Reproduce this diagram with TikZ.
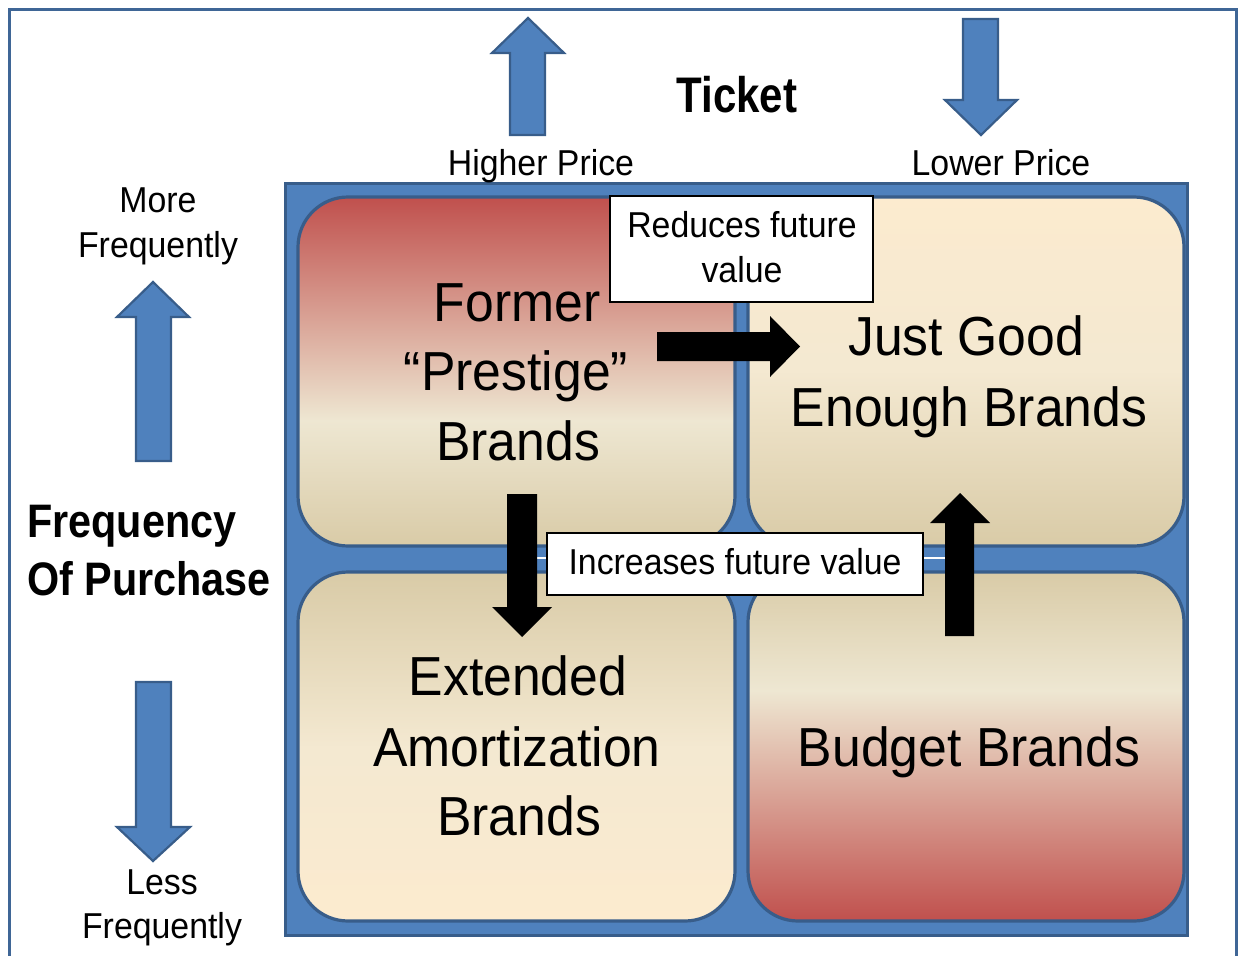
\documentclass[tikz,border=0pt]{standalone}
\usepackage{fontspec}
\setmainfont{Liberation Sans}[FakeStretch=0.94]
\newfontfamily\bfont{Liberation Sans}[FakeStretch=0.84]
\newfontfamily\bfontw{Liberation Sans}[FakeStretch=0.88]
\definecolor{frameblue}{HTML}{3F6696}
\definecolor{fillblue}{HTML}{4F81BD}
\definecolor{edgeblue}{HTML}{385D8A}
\definecolor{qred}{HTML}{C0504D}
\definecolor{qbeige}{HTML}{EEE7D2}
\definecolor{qtan}{HTML}{D9CBA7}
\definecolor{qcream}{HTML}{FCEBCF}
\pgfdeclareverticalshading{tlshade}{100bp}{color(0bp)=(qtan); color(25bp)=(qtan); color(43bp)=(qbeige); color(75bp)=(qred); color(100bp)=(qred)}
\pgfdeclareverticalshading{brshade}{100bp}{color(0bp)=(qred); color(25bp)=(qred); color(58bp)=(qbeige); color(75bp)=(qtan); color(100bp)=(qtan)}
\pgfdeclareverticalshading{trshade}{100bp}{color(0bp)=(qtan); color(25bp)=(qtan); color(50bp)=(qbeige!60!qcream); color(75bp)=(qcream); color(100bp)=(qcream)}
\pgfdeclareverticalshading{blshade}{100bp}{color(0bp)=(qcream); color(25bp)=(qcream); color(50bp)=(qbeige!60!qcream); color(75bp)=(qtan); color(100bp)=(qtan)}
\tikzset{
  quad/.style={draw=edgeblue, line width=3.2pt, rounded corners=50pt},
  bluearrow/.style={draw=edgeblue, fill=fillblue, line width=2.2pt, line join=miter},
  blackarrow/.style={fill=black},
  lbox/.style={draw=black, fill=white, line width=1.5pt, inner sep=0pt},
  big/.style={anchor=base, inner sep=0pt, font=\fontsize{55}{66}\selectfont},
  small/.style={anchor=base, inner sep=0pt, font=\fontsize{36}{43}\selectfont},
  bold/.style={anchor=base west, inner sep=0pt, font=\bfontw\bfseries\fontsize{47}{56}\selectfont},
}
\begin{document}
\begin{tikzpicture}[x=1pt,y=-1pt]
\useasboundingbox (0,0) rectangle (1241,955);
% outer frame
\draw[frameblue, line width=3pt] (9.5,956) -- (9.5,9.5) -- (1236,9.5) -- (1236,956);
% inner blue board
\draw[edgeblue, fill=fillblue, line width=3pt] (285,183) rectangle (1187,935);
% quadrants
\draw[quad, shading=tlshade] (298,197) rectangle (735,546);
\draw[quad, shading=trshade] (748,197) rectangle (1184,546);
\draw[quad, shading=blshade] (298,572) rectangle (735,921);
\draw[quad, shading=brshade] (748,572) rectangle (1184,921);
% quadrant texts
\node[big] (tl1) at (517,321) {Former};
\node[big] (tl2) at (516,390) {“Prestige”};
\node[big] (tl3) at (518,460) {Brands};
\node[big] (tr1) at (966,355) {Just Good};
\node[big] (tr2) at (969,426) {Enough Brands};
\node[big] (bl1) at (518,695) {Extended};
\node[big] (bl2) at (517,766) {Amortization};
\node[big] (bl3) at (519,835) {Brands};
\node[big] (br1) at (969,766) {Budget Brands};
% white line between the black arrows
\coordinate (wl) at (522,558);
\coordinate (wr) at (960,558);
\draw[white, line width=2pt] (wl) -- (wr);
% black arrows
\fill[blackarrow] (657,332) -- (770,332) -- (770,316) -- (800,346.5) -- (770,377) -- (770,361) -- (657,361) -- cycle;
\fill[blackarrow] (507,494) -- (537,494) -- (537,607) -- (552,607) -- (522,637) -- (492,607) -- (507,607) -- cycle;
\fill[blackarrow] (945,636) -- (974,636) -- (974,523) -- (990,523) -- (960,493) -- (930,523) -- (945,523) -- cycle;
% label boxes
\node[lbox, minimum width=263pt, minimum height=106pt] (rbox) at (741.5,249) {};
\node[small] (r1) at (742,237) {Reduces future};
\node[small] (r2) at (742,282) {value};
\node[lbox, minimum width=376pt, minimum height=62pt] (ibox) at (735,564) {};
\node[small] (i1) at (735,574) {Increases future value};
% blue arrows
\draw[bluearrow] (510,135) -- (510,53) -- (492,53) -- (528,18) -- (564,53) -- (545,53) -- (545,135) -- cycle;
\draw[bluearrow] (963,19) -- (998,19) -- (998,100) -- (1017,100) -- (981,135) -- (945,100) -- (963,100) -- cycle;
\draw[bluearrow] (136,461) -- (136,317) -- (117,317) -- (153,282) -- (189,317) -- (171,317) -- (171,461) -- cycle;
\draw[bluearrow] (136,682) -- (171,682) -- (171,827) -- (190,827) -- (153,861) -- (117,827) -- (136,827) -- cycle;
% axis labels
\node[anchor=base, inner sep=0pt, font=\bfont\bfseries\fontsize{50}{60}\selectfont] (ticket) at (737,113) {Ticket};
\node[small] (hp) at (541,175) {Higher Price};
\node[small] (lp) at (1001,175) {Lower Price};
\node[small] (mf1) at (158,212) {More};
\node[small] (mf2) at (158,257) {Frequently};
\node[bold] (fp1) at (27,537) {Frequency};
\node[bold] (fp2) at (27,595) {Of Purchase};
\node[small] (lf1) at (162,894) {Less};
\node[small] (lf2) at (162,938) {Frequently};
\end{tikzpicture}
\end{document}
